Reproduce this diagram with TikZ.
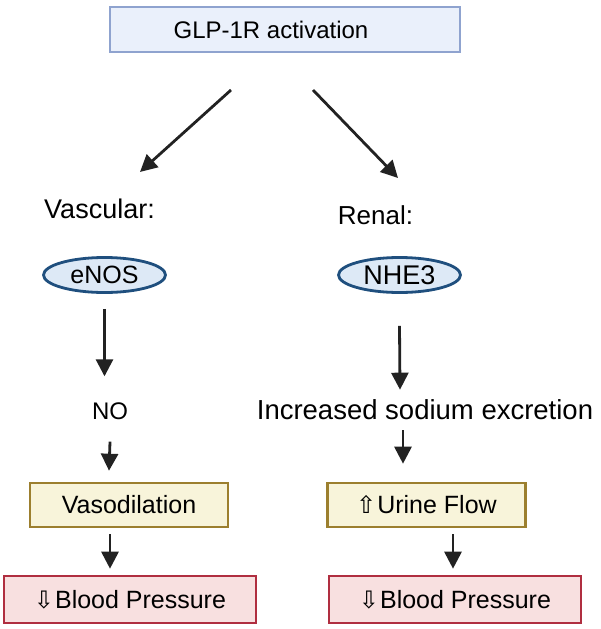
\documentclass[tikz,border=0pt]{standalone}
\usepackage{fontspec}
\setmainfont{Liberation Sans}
\newfontfamily\symfont{DejaVu Sans}
\usetikzlibrary{arrows.meta,shapes.geometric}
\definecolor{topfill}{HTML}{EAF0FB}
\definecolor{topdraw}{HTML}{8FA3CF}
\definecolor{ellfill}{HTML}{DDE9F6}
\definecolor{elldraw}{HTML}{1F4F7E}
\definecolor{yelfill}{HTML}{F8F4DA}
\definecolor{yeldraw}{HTML}{9C7F2E}
\definecolor{redfill}{HTML}{F8E0E0}
\definecolor{reddraw}{HTML}{B02E40}
\definecolor{arrcol}{HTML}{222222}
\newcommand{\updn}[1]{{\symfont\fontsize{24}{24}\selectfont #1}\hspace{1pt}}
\tikzset{
  fs/.style={font=\fontsize{#1}{#1}\selectfont},
  txt/.style={inner sep=0pt, text=black},
  topbox/.style={draw=topdraw, fill=topfill, line width=2pt, minimum width=350pt, minimum height=45pt, inner sep=0pt, text=black},
  ell/.style={ellipse, draw=elldraw, fill=ellfill, line width=2.8pt, minimum width=122pt, minimum height=35pt, inner sep=0pt, text=black},
  yelbox/.style={draw=yeldraw, fill=yelfill, line width=2.6pt, minimum width=198pt, minimum height=44pt, inner sep=0pt, text=black},
  redbox/.style={draw=reddraw, fill=redfill, line width=2.6pt, minimum width=252pt, minimum height=47pt, inner sep=0pt, text=black},
  arr/.style={draw=arrcol, line width=2.8pt, -{Triangle[length=17pt,width=17pt]}},
}
\begin{document}
\begin{tikzpicture}[x=1pt,y=-1pt]
\useasboundingbox (0,0) rectangle (600,629);
% top
\node[topbox, fs=24] (top) at (285,29.5) {\hspace*{-28pt}GLP-1R activation};
% labels
\node[txt, fs=27] (vasc) at (99.5,209) {Vascular:};
\node[txt, fs=26] (ren) at (375.5,215) {Renal:};
% ellipses
\node[ell, fs=25] (enos) at (104.5,275) {eNOS};
\node[ell, fs=27] (nhe) at (399.5,275) {NHE3};
% middle texts
\node[txt, fs=24] (no) at (110,411) {NO};
\node[txt, fs=27.5] (inc) at (425,410) {Increased sodium excretion};
% boxes
\node[yelbox, fs=25] (vaso) at (129,505) {Vasodilation};
\node[yelbox, fs=25] (urine) at (426.5,505) {\updn{⇧}Urine Flow};
\node[redbox, fs=25] (bp1) at (130,599.5) {\updn{⇩}Blood Pressure};
\node[redbox, fs=25] (bp2) at (455,599.5) {\updn{⇩}Blood Pressure};
% diagonal arrows
\coordinate (la) at (231,90);
\coordinate (lb) at (140,172);
\coordinate (ra) at (313,90);
\coordinate (rb) at (398,178);
\draw[arr] (la) -- (lb);
\draw[arr] (ra) -- (rb);
% left column
\draw[arr] ([yshift=-15pt]enos.south) -- ([yshift=26pt]no.north -| enos.south);
\draw[arr] ([yshift=-22pt]no.south) -- ([xshift=-20pt,yshift=11pt]vaso.north);
\draw[arr] ([xshift=-19pt,yshift=-6pt]vaso.south) -- ([xshift=-20pt,yshift=6pt]bp1.north);
% right column
\draw[arr] ([yshift=-32pt]nhe.south) -- ([xshift=-25pt,yshift=10pt]inc.north);
\draw[arr] ([xshift=-22pt,yshift=-10pt]inc.south) -- ([xshift=-23.5pt,yshift=18pt]urine.north);
\draw[arr] ([xshift=26.5pt,yshift=-6pt]urine.south) -- ([xshift=-2pt,yshift=6pt]bp2.north);
\end{tikzpicture}
\end{document}
